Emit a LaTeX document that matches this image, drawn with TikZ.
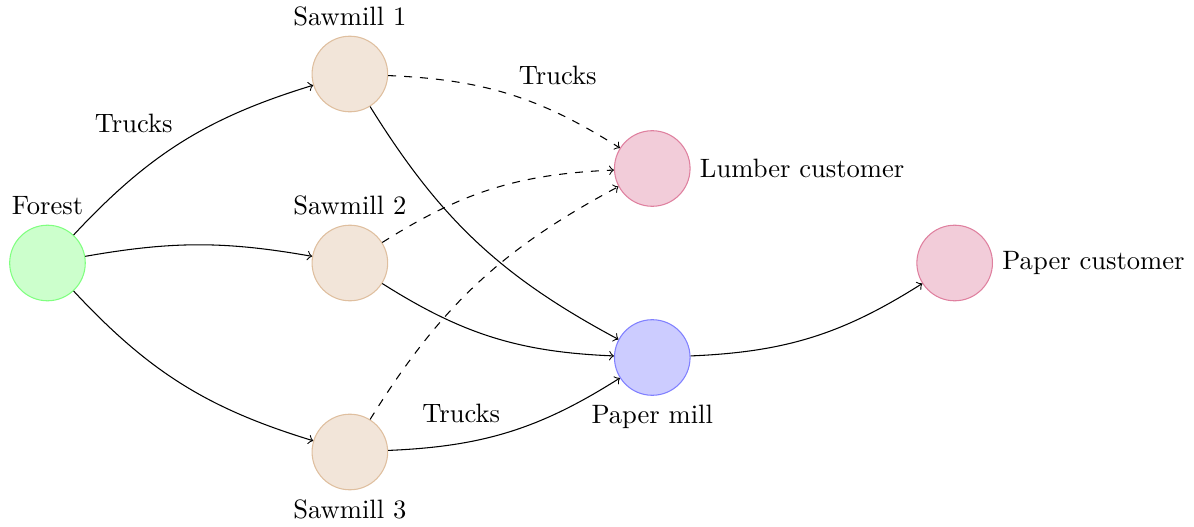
\documentclass[tikz,border=0pt]{standalone}
\usepackage{xcolor}
\usepackage{amsmath}
\usepackage{tikz}
\usetikzlibrary{arrows}

\tikzset{
  place/.style={circle,minimum size=1cm,inner sep=0pt},
  forest/.style={place,draw=green!50,fill=green!20},
  sawmill/.style={place,draw=brown!50,fill=brown!20},
  customer/.style={place,draw=purple!50,fill=purple!20},
  mill/.style={place,draw=blue!50,fill=blue!20}
}

\begin{document}
\begin{tikzpicture}[->]
    \useasboundingbox (-0.628,-3.492) rectangle (15.166,3.479);

    \node[forest,label=above:Forest](f) at (0,0) {};
    \node[sawmill,label=above:Sawmill 1](s1) at (4,2.5) {};
    \node[sawmill,label=above:Sawmill 2](s2) at (4,0) {};
    \node[sawmill,label=below:Sawmill 3](s3) at (4,-2.5) {};
    \node[customer,label=right:Lumber customer](lc) at (8,1.25) {};
    \node[mill,label=below:Paper mill](pm) at (8,-1.25) {};
    \node[customer,label=right:Paper customer](pc) at (12,0) {};

    % forest to sawmills
    \draw (f) to[bend left=15] node[midway,above left]{Trucks} (s1);
    \draw (f) to[bend left=10] (s2);
    \draw (f) to[bend right=15] (s3);

    % lumber
    \draw[dashed] (s1) to[bend left=15] node[midway,above right]{Trucks} (lc);
    \draw[dashed] (s2) to[bend left=15] (lc);
    \draw[dashed] (s3) to[bend left=15] (lc);

    % chips to the paper mill
    \draw (s1) to[bend right=15] (pm);
    \draw (s2) to[bend right=15] (pm);
    \draw (s3) to[bend right=15] node[midway,above left]{Trucks} (pm);
    \draw (pm) to[bend right=15] (pc);
  \end{tikzpicture}
\end{document}
